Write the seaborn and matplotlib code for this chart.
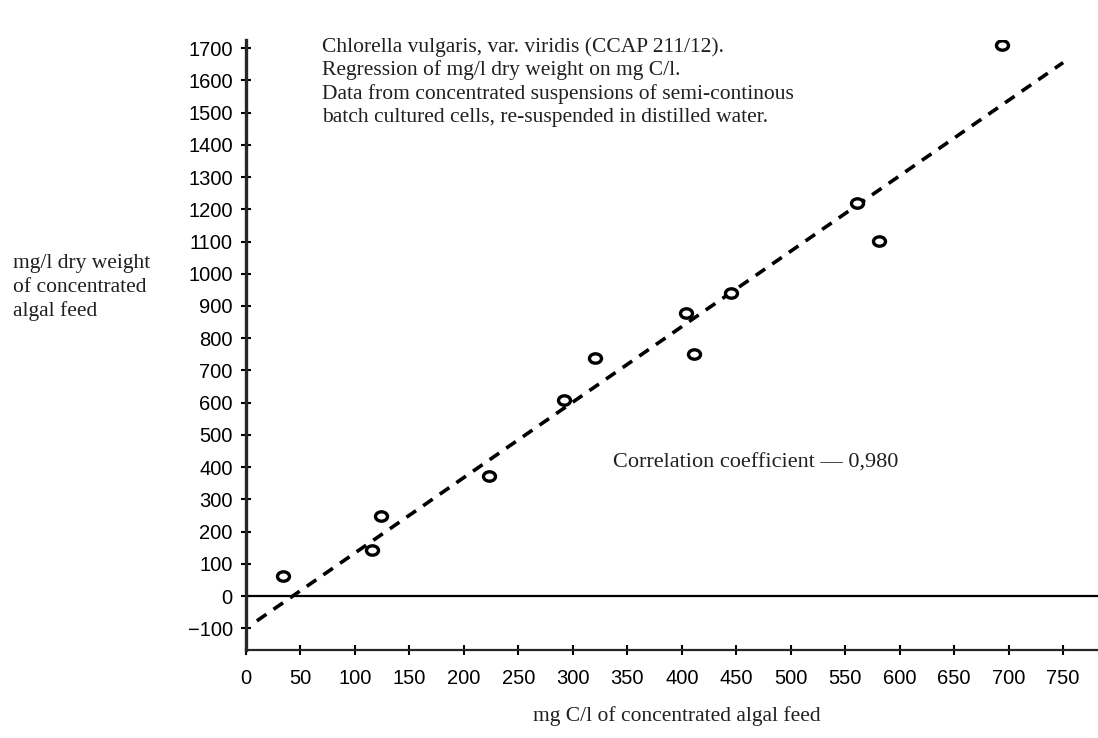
import numpy as np
import pandas as pd
import matplotlib
matplotlib.use("Agg")
import matplotlib.pyplot as plt
from matplotlib.path import Path
from matplotlib.transforms import Affine2D
import seaborn as sns

#=========================================================
#----- Data ---------------------------
#=========================================================
carbon_mg_l = [34, 116, 124, 223, 292, 320, 404, 411, 445, 561, 581, 694]
dry_weight_mg_l = [63, 143, 248, 374, 608, 739, 878, 751, 941, 1220, 1101, 1709]

fit_slope = 2.34
fit_intercept = -100
fit_range = [10, 750]

x_ticks = list(range(0, 751, 50))
y_ticks = list(range(-100, 1701, 100))

note_lines = [
    "Chlorella vulgaris, var. viridis (CCAP 211/12).",
    "Regression of mg/l dry weight on mg C/l.",
    "Data from concentrated suspensions of semi-continous",
    "batch cultured cells, re-suspended in distilled water.",
]
y_label_lines = ["mg/l dry weight", "of concentrated", "algal feed"]
x_label = "mg C/l of concentrated algal feed"
corr_text = "Correlation coefficient \u2014 0,980"

df = pd.DataFrame({"carbon": carbon_mg_l, "dry": dry_weight_mg_l})
fit_x = np.array(fit_range, dtype=float)
fit_df = pd.DataFrame({"carbon": fit_x, "dry": fit_intercept + fit_slope * fit_x})

#=========================================================
#----- Plot --------
#=========================================================
sns.set_style("ticks")
plt.rcParams["font.family"] = ["Liberation Sans", "DejaVu Sans"]
serif = ["Liberation Serif", "DejaVu Serif"]
text_size = 15.5
text_color = "#231f20"

W, H = 1098, 738
fig = plt.figure(figsize=(W / 100, H / 100), dpi=100)
ax = fig.add_axes([246 / W, 88 / H, 852 / W, 610 / H])

ax.axhline(0, color="black", lw=1.6, zorder=1)

sns.lineplot(data=fit_df, x="carbon", y="dry", ax=ax, color="black",
             lw=2.6, dashes=False, zorder=2)
ax.lines[-1].set_dashes([3.2, 2.4])

# slightly flattened open rings like the scanned markers
ring = Path.unit_circle().transformed(Affine2D().scale(1.0, 0.78))
sns.scatterplot(data=df, x="carbon", y="dry", ax=ax, marker=ring, s=75,
                facecolor="white", edgecolor="black", linewidth=2.4, zorder=3)

ax.set_xlim(0, 782)
ax.set_ylim(-167, 1725)
ax.set_xticks(x_ticks)
ax.set_yticks(y_ticks)
ax.set_yticklabels([("\u2212" + str(-v)) if v < 0 else str(v) for v in y_ticks])
ax.tick_params(axis="both", direction="inout", length=7, width=1.5,
               labelsize=14.5, colors="black")
ax.tick_params(axis="x", pad=10)
ax.tick_params(axis="y", pad=6)

sns.despine(ax=ax, top=True, right=True)
ax.spines["left"].set_linewidth(2.4)
ax.spines["bottom"].set_linewidth(1.6)
ax.set_xlabel("")
ax.set_ylabel("")

#---- annotation texts ----
for i, line in enumerate(note_lines):
    fig.text(322 / W, 1 - (47 + 23.5 * i) / H, line, family=serif,
             fontsize=text_size, va="center", ha="left", color=text_color)

for i, line in enumerate(y_label_lines):
    fig.text(13 / W, 1 - (264 + 23.5 * i) / H, line, family=serif,
             fontsize=text_size, va="center", ha="left", color=text_color)

fig.text(677 / W, 1 - 716 / H, x_label, family=serif, fontsize=text_size,
         va="center", ha="center", color=text_color)
fig.text(613 / W, 1 - 463 / H, corr_text, family=serif, fontsize=16,
         va="center", ha="left", color=text_color)

fig.savefig("out.png", dpi=100)
